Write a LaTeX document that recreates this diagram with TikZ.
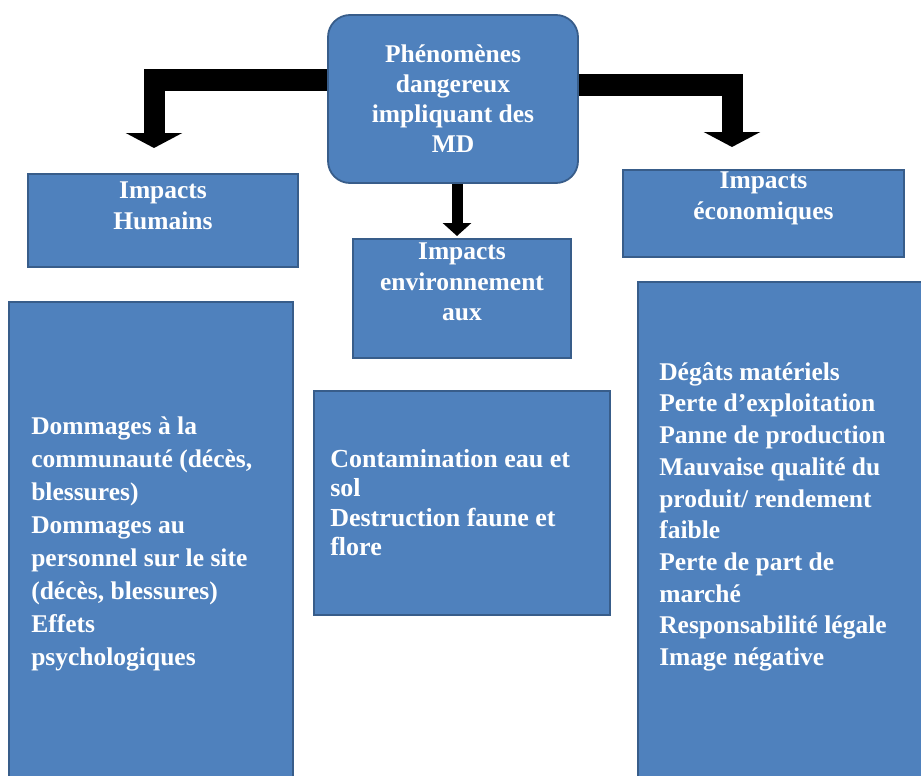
\documentclass[tikz,border=0pt]{standalone}
\usepackage{fontspec}
\setmainfont{Liberation Serif}
\usetikzlibrary{arrows.meta,positioning}
\definecolor{boxblue}{HTML}{4F81BD}
\definecolor{boxline}{HTML}{385D8A}

\begin{document}
\begin{tikzpicture}[
x=1pt, y=-1pt,
box/.style={draw=boxline, fill=boxblue, line width=1.8pt, inner sep=0pt},
head/.style={box, rounded corners=22pt, minimum width=250pt, minimum height=168pt, align=center, text=white, font=\bfseries\fontsize{25.5}{30}\selectfont},
txt/.style={inner sep=0pt, text=white, font=\bfseries\fontsize{25.5}{31}\selectfont},
bigarrow/.style={line width=21pt, line join=miter, -{Triangle[width=56pt, length=15pt]}},
arrow/.style={line width=11pt, -{Triangle[width=28pt, length=13pt]}}
]
\useasboundingbox (0,0) rectangle (921,776);

\node[head] (hazard) at (453,99) {Phénomènes\\dangereux\\impliquant des\\MD};

\node[box, minimum width=270pt, minimum height=93pt] (hum) at (163,220.5) {};
\node[box, minimum width=218pt, minimum height=119pt] (env) at (462,298.5) {};
\node[box, minimum width=281pt, minimum height=87pt] (eco) at (763.5,213.5) {};
\node[box, minimum width=284pt, minimum height=478pt] (humlist) at (151,541) {};
\node[box, minimum width=296pt, minimum height=224pt] (envlist) at (462,503) {};
\node[box, minimum width=290pt, minimum height=498pt] (ecolist) at (783,531) {};

\node[txt, align=center, below=9pt of hum.north] (humtxt) {Impacts\\Humains};
\node[txt, align=center, below=4pt of env.north] (envtxt) {Impacts\\environnement\\aux};
\node[txt, align=center, below=3pt of eco.north] (ecotxt) {Impacts\\économiques};

\node[txt, align=left, font=\bfseries\fontsize{25.5}{33}\selectfont,
  below right=115pt and 23pt of humlist.north west] (humitems)
  {Dommages à la\\communauté (décès,\\blessures)\\Dommages au\\personnel sur le site\\(décès, blessures)\\Effets\\psychologiques};
\node[txt, align=left, font=\bfseries\fontsize{26}{29.5}\selectfont,
  below right=59pt and 17pt of envlist.north west] (envitems)
  {Contamination eau et\\sol\\Destruction faune et\\flore};
\node[txt, align=left, font=\bfseries\fontsize{25.5}{31.7}\selectfont,
  below right=81pt and 22pt of ecolist.north west] (ecoitems)
  {Dégâts matériels\\Perte d’exploitation\\Panne de production\\Mauvaise qualité du\\produit/ rendement\\faible\\Perte de part de\\marché\\Responsabilité légale\\Image négative};

\coordinate (humtip) at (154,148);
\coordinate (ecotip) at (732,147);
\coordinate (envtip) at (457,236);

\draw[bigarrow] ([yshift=19pt]hazard.west) -| (humtip);
\draw[bigarrow] ([yshift=14pt]hazard.east) -| (ecotip);
\draw[arrow] (hazard.south -| envtip) -- (envtip);
\end{tikzpicture}
\end{document}
